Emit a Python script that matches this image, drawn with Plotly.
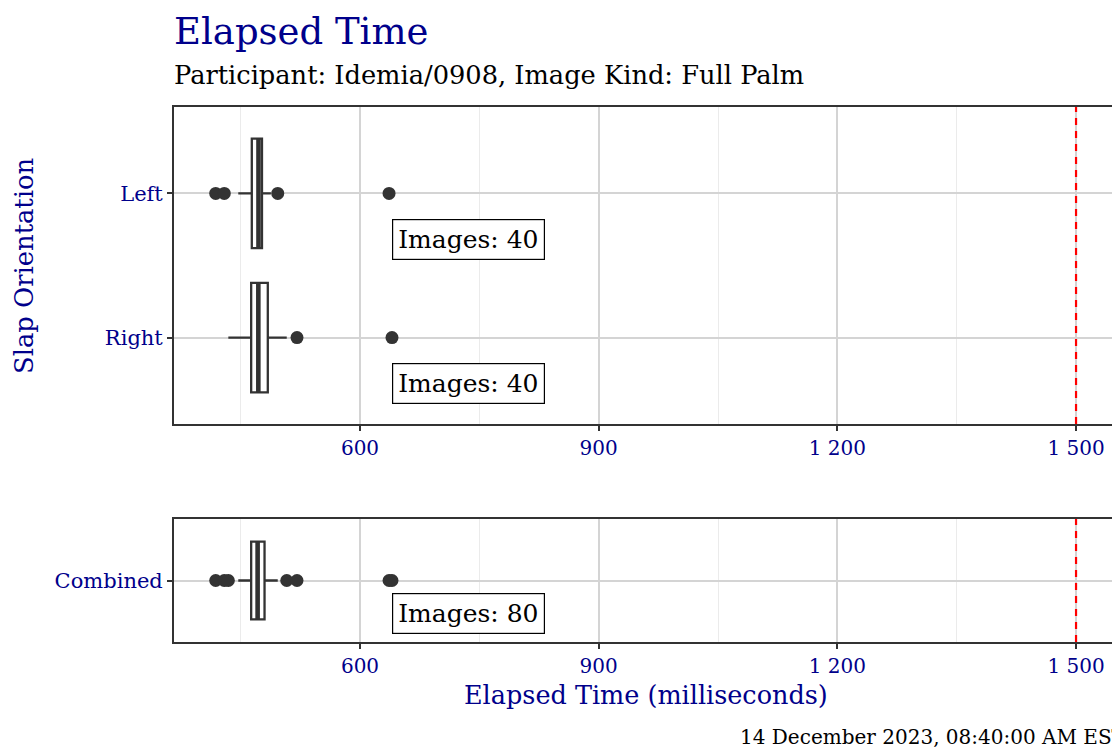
import plotly.graph_objects as go

# ---------------- data ----------------
top_categories = ["Left", "Right"]
top_q1 = [464.0, 463.2]
top_median = [472.4, 472.2]
top_q3 = [476.8, 484.1]
top_lowerfence = [447.0, 434.5]
top_upperfence = [488.0, 507.9]
left_outliers = [418.6, 429.4, 496.6, 636.5]
right_outliers = [520.8, 640.2]
top_counts = [40, 40]

bottom_categories = ["Combined"]
bottom_q1 = [463.2]
bottom_median = [471.3]
bottom_q3 = [480.0]
bottom_lowerfence = [447.0]
bottom_upperfence = [496.6]
combined_outliers = [418.6, 429.4, 434.5, 507.9, 520.8, 636.5, 640.2]
bottom_counts = [80]

threshold_ms = 1500
label_x = 640.2
x_tickvals = [600, 900, 1200, 1500]
x_minor_vals = [450, 750, 1050, 1350]

title_text = "Elapsed Time"
subtitle_text = "Participant: Idemia/0908, Image Kind: Full Palm"
xaxis_title = "Elapsed Time (milliseconds)"
yaxis_title = "Slap Orientation"
timestamp_text = "14 December 2023, 08:40:00 AM EST"

# ---------------- style ----------------
FONT = "DejaVu Serif"
BLUE = "#00008B"
DARK = "#333333"
W, H = 1112, 748
ML, MR, MT, MB = 174, 0, 107, 106
PW = W - ML - MR
PH = H - MT - MB
X_RANGE = [366.2, 1545.2]
BOX_W = 0.76


def px_x(p):
    return (p - ML) / PW


def px_y(p):
    return (H - MB - p) / PH


fig = go.Figure()

box_common = dict(
    orientation="h",
    width=BOX_W,
    whiskerwidth=0,
    fillcolor="white",
    line=dict(color=DARK, width=2.3),
    hoverinfo="skip",
    showlegend=False,
)

fig.add_trace(go.Box(
    y=top_categories, q1=top_q1, median=top_median, q3=top_q3,
    lowerfence=top_lowerfence, upperfence=top_upperfence,
    xaxis="x", yaxis="y", **box_common))
fig.add_trace(go.Box(
    y=bottom_categories, q1=bottom_q1, median=bottom_median, q3=bottom_q3,
    lowerfence=bottom_lowerfence, upperfence=bottom_upperfence,
    xaxis="x2", yaxis="y2", **box_common))

# fat median bars (ggplot style), placed through the axes
for meds, xr, yr in ((top_median, "x", "y"), (bottom_median, "x2", "y2")):
    for i, m in enumerate(meds):
        fig.add_shape(type="line", xref=xr, yref=yr, x0=m, x1=m,
                      y0=i - BOX_W / 2, y1=i + BOX_W / 2,
                      line=dict(color=DARK, width=4.6), layer="above")

marker = dict(color=DARK, size=13)
fig.add_trace(go.Scatter(
    x=left_outliers, y=[top_categories[0]] * len(left_outliers), mode="markers",
    marker=marker, xaxis="x", yaxis="y", hoverinfo="skip", showlegend=False))
fig.add_trace(go.Scatter(
    x=right_outliers, y=[top_categories[1]] * len(right_outliers), mode="markers",
    marker=marker, xaxis="x", yaxis="y", hoverinfo="skip", showlegend=False))
fig.add_trace(go.Scatter(
    x=combined_outliers, y=[bottom_categories[0]] * len(combined_outliers), mode="markers",
    marker=marker, xaxis="x2", yaxis="y2", hoverinfo="skip", showlegend=False))

# threshold lines
for xr, yr in (("x", "y domain"), ("x2", "y2 domain")):
    fig.add_shape(type="line", xref=xr, yref=yr, x0=threshold_ms, x1=threshold_ms,
                  y0=0, y1=1, line=dict(color="red", width=2.2, dash="7px,6px"), layer="above")

# count labels
label_style = dict(
    xanchor="left", yanchor="middle", showarrow=False,
    font=dict(family=FONT, size=25, color="black"),
    bgcolor="white", bordercolor="black", borderwidth=1.2, borderpad=5,
)
for i, n in enumerate(top_counts):
    fig.add_annotation(x=label_x, y=i + 0.32, xref="x", yref="y",
                       text=f"Images: {n}", **label_style)
for i, n in enumerate(bottom_counts):
    fig.add_annotation(x=label_x, y=i + 0.32, xref="x2", yref="y2",
                       text=f"Images: {n}", **label_style)

# titles
fig.add_annotation(x=px_x(ML) - 0.002, y=px_y(31), xref="paper", yref="paper",
                   xanchor="left", yanchor="middle", showarrow=False,
                   text=title_text, font=dict(family=FONT, size=37, color=BLUE))
fig.add_annotation(x=px_x(ML) - 0.002, y=px_y(75), xref="paper", yref="paper",
                   xanchor="left", yanchor="middle", showarrow=False,
                   text=subtitle_text, font=dict(family=FONT, size=25.7, color="black"))
fig.add_annotation(x=px_x(646), y=px_y(695), xref="paper", yref="paper",
                   xanchor="center", yanchor="middle", showarrow=False,
                   text=xaxis_title, font=dict(family=FONT, size=25.5, color=BLUE))
fig.add_annotation(x=px_x(24), y=px_y(266), xref="paper", yref="paper",
                   xanchor="center", yanchor="middle", showarrow=False, textangle=-90,
                   text=yaxis_title, font=dict(family=FONT, size=25.8, color=BLUE))
fig.add_annotation(x=px_x(738), y=px_y(737), xref="paper", yref="paper",
                   xanchor="left", yanchor="middle", showarrow=False,
                   text=timestamp_text, font=dict(family=FONT, size=20, color="black"))

xaxis_common = dict(
    range=X_RANGE, domain=[0, 1],
    tickmode="array", tickvals=x_tickvals, tickformat=",d",
    tickfont=dict(family=FONT, size=20, color=BLUE),
    ticks="outside", ticklen=5, tickwidth=2, tickcolor=DARK,
    showgrid=True, gridcolor="#d4d4d4", gridwidth=1.6,
    minor=dict(tickmode="array", tickvals=x_minor_vals, showgrid=True,
               gridcolor="#ebebeb", gridwidth=1, ticks=""),
    showline=True, linecolor=DARK, linewidth=2, mirror=True,
    zeroline=False, fixedrange=True,
)
yaxis_common = dict(
    type="category",
    tickfont=dict(family=FONT, size=21, color=BLUE),
    ticks="outside", ticklen=5, tickwidth=2, tickcolor=DARK,
    showgrid=True, gridcolor="#d4d4d4", gridwidth=1.6,
    showline=True, linecolor=DARK, linewidth=2, mirror=False,
    zeroline=False, fixedrange=True,
)

fig.update_layout(
    width=W, height=H,
    margin=dict(l=ML, r=MR, t=MT, b=MB, pad=0),
    paper_bgcolor="white", plot_bgcolor="white",
    separators=". ",
    font=dict(family=FONT),
    boxmode="overlay",
    xaxis=dict(anchor="y", **xaxis_common),
    xaxis2=dict(anchor="y2", **xaxis_common),
    yaxis=dict(anchor="x", domain=[px_y(424), 1], range=[1.6, -0.6],
               categoryorder="array", categoryarray=top_categories, **yaxis_common),
    yaxis2=dict(anchor="x2", domain=[0, px_y(519)], range=[0.6, -0.6],
                categoryorder="array", categoryarray=bottom_categories, **yaxis_common),
    showlegend=False,
)

fig.write_html(
    "out.html",
    config={"displayModeBar": False},
    post_script="document.body.style.margin='0';document.body.style.overflow='hidden';",
)
